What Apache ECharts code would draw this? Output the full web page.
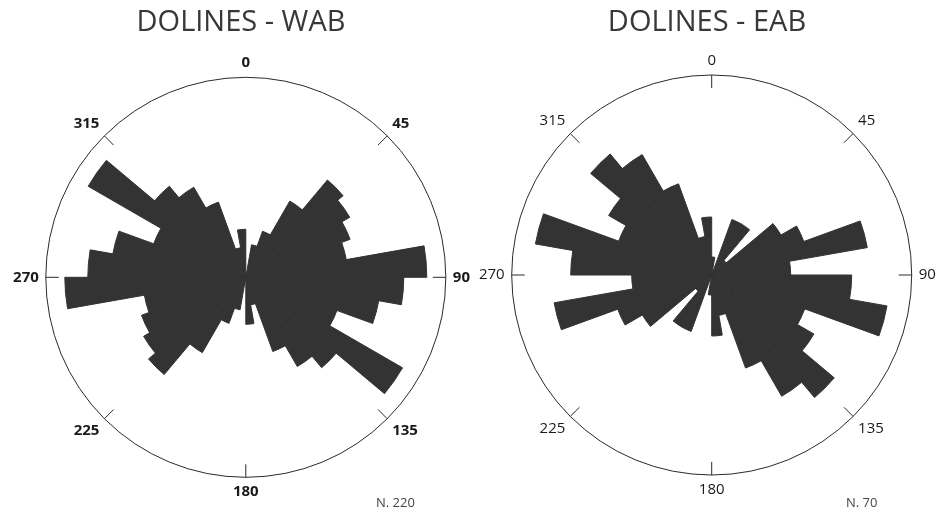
<!DOCTYPE html>
<html>
<head>
<meta charset="utf-8">
<script src="https://cdn.jsdelivr.net/npm/echarts@6/dist/echarts.min.js"></script>
<style>
  html, body { margin: 0; padding: 0; background: #ffffff; }
  #chart { width: 950px; height: 512px; }
</style>
</head>
<body>
<div id="chart"></div>
<script>
// 10-degree azimuth bins (0-10 ... 350-360), clockwise from north
const bins = ['0-10','10-20','20-30','30-40','40-50','50-60','60-70','70-80','80-90',
  '90-100','100-110','110-120','120-130','130-140','140-150','150-160','160-170','170-180',
  '180-190','190-200','200-210','210-220','220-230','230-240','240-250','250-260','260-270',
  '270-280','280-290','290-300','300-310','310-320','320-330','330-340','340-350','350-360'];

// Petal lengths (outer circle = 200)
const wabValues = [0, 33, 49, 88, 127, 120, 111, 102, 181,
  158, 135, 97, 181, 118, 103, 79, 28, 47,
  0, 33, 49, 87, 127, 118, 111, 103, 181,
  158, 135, 98, 182, 119, 104, 80, 30, 48];

const eabValues = [18, 0, 59, 59, 19, 80, 98, 158, 79,
  140, 178, 99, 118, 160, 140, 99, 41, 61,
  20, 0, 60, 60, 21, 80, 100, 160, 80,
  141, 179, 99, 119, 158, 139, 97, 39, 58];

const compassLabels = ['0', '45', '90', '135', '180', '225', '270', '315'];
const titles = ['DOLINES - WAB', 'DOLINES - EAB'];
const counts = ['N. 220', 'N. 70'];
const radiusMax = 200;

const FONT = '"Open Sans", "Noto Sans", sans-serif';
const centers = [[245.8, 277.3], [711.7, 275]];

const chart = echarts.init(document.getElementById('chart'), null, { renderer: 'canvas' });

function barAngle() {
  return { type: 'category', data: bins, startAngle: 90, clockwise: true, boundaryGap: true,
    axisLine: { show: true, lineStyle: { color: '#2a2a2a', width: 1 } },
    axisTick: { show: false }, axisLabel: { show: false },
    splitLine: { show: false }, splitArea: { show: false } };
}
function frameAngle(bold, hideNorthTick) {
  return {
    type: 'category', data: compassLabels, startAngle: 90, clockwise: true, boundaryGap: false,
    axisLine: { show: false },
    axisTick: { show: true, inside: true, length: 13, lineStyle: { color: '#2a2a2a', width: 1 },
      interval: function (idx) { return hideNorthTick ? idx !== 0 : true; } },
    axisLabel: { show: true, interval: 0, margin: 7, color: '#1a1a1a', fontSize: 15,
      fontFamily: FONT, fontWeight: bold ? 'bold' : 'normal' },
    splitLine: { show: false }, splitArea: { show: false }
  };
}
function radAxis(idx) {
  return { type: 'value', polarIndex: idx, min: 0, max: radiusMax, show: false,
    axisLine: { show: false }, splitLine: { show: false }, axisLabel: { show: false }, axisTick: { show: false } };
}

const petalStyle = { color: '#333333', borderColor: '#333333', borderWidth: 1 };

const option = {
  animation: false,
  backgroundColor: '#ffffff',
  polar: [
    { center: centers[0], radius: 200 },
    { center: centers[0], radius: 200 },
    { center: centers[1], radius: 200 },
    { center: centers[1], radius: 200 }
  ],
  angleAxis: [
    Object.assign(barAngle(), { polarIndex: 0 }),
    Object.assign(frameAngle(true, true), { polarIndex: 1 }),
    Object.assign(barAngle(), { polarIndex: 2 }),
    Object.assign(frameAngle(false, false), { polarIndex: 3 })
  ],
  radiusAxis: [radAxis(0), radAxis(1), radAxis(2), radAxis(3)],
  series: [
    { type: 'bar', coordinateSystem: 'polar', polarIndex: 0, data: wabValues,
      barCategoryGap: '0%', barGap: '0%', itemStyle: petalStyle, silent: true },
    { type: 'bar', coordinateSystem: 'polar', polarIndex: 2, data: eabValues,
      barCategoryGap: '0%', barGap: '0%', itemStyle: petalStyle, silent: true }
  ],
  graphic: [
    { type: 'text', x: 241, y: 23, style: { text: titles[0], font: '29px ' + FONT, fill: '#383838', textAlign: 'center', textVerticalAlign: 'middle' } },
    { type: 'text', x: 707, y: 23, style: { text: titles[1], font: '29px ' + FONT, fill: '#383838', textAlign: 'center', textVerticalAlign: 'middle' } },
    { type: 'text', x: 376, y: 503, style: { text: counts[0], font: '13px ' + FONT, fill: '#444444', textAlign: 'left', textVerticalAlign: 'middle' } },
    { type: 'text', x: 846, y: 503, style: { text: counts[1], font: '13px ' + FONT, fill: '#444444', textAlign: 'left', textVerticalAlign: 'middle' } }
  ]
};
chart.setOption(option);
</script>
</body>
</html>
